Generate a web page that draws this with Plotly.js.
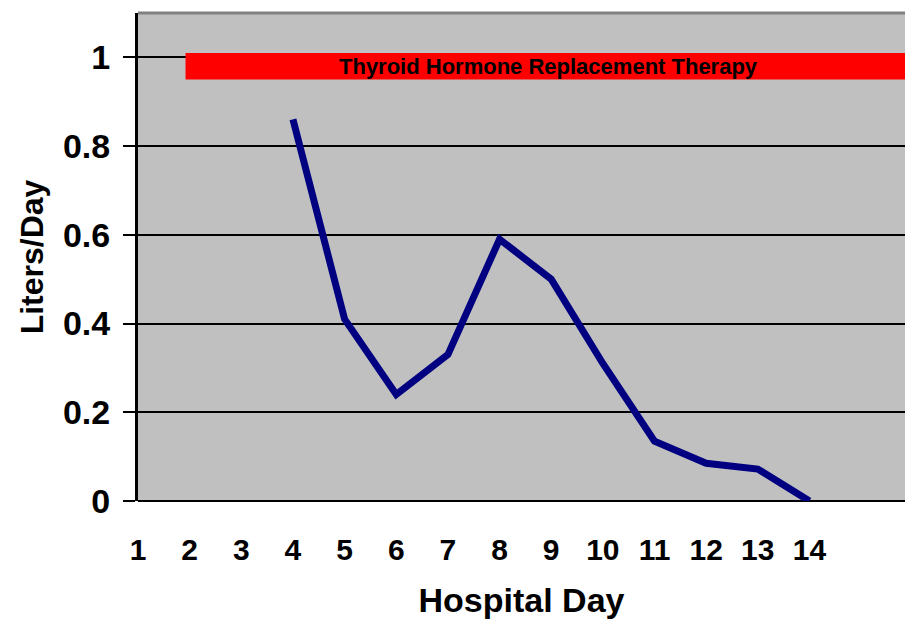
<!DOCTYPE html>
<html>
<head>
<meta charset="utf-8">
<script src="https://cdn.plot.ly/plotly-3.0.1.min.js"></script>
<style>html,body{margin:0;padding:0;background:#fff;}#chart{width:905px;height:619px;}</style>
</head>
<body>
<div id="chart"></div>
<script>
const days = [1, 2, 3, 4, 5, 6, 7, 8, 9, 10, 11, 12, 13, 14];
const lineDays = [4, 5, 6, 7, 8, 9, 10, 11, 12, 13, 14];
const litersPerDay = [0.86, 0.41, 0.24, 0.33, 0.59, 0.50, 0.31, 0.135, 0.085, 0.072, 0.0];
const yTicks = [0, 0.2, 0.4, 0.6, 0.8, 1];
const yTickLabels = ['0', '0.2', '0.4', '0.6', '0.8', '1'];
const therapyLabel = 'Thyroid Hormone Replacement Therapy';
const therapyStartDay = 1.92;
const therapyEndDay = 15.9;
const therapyBand = [0.95, 1.01];

const font = 'Liberation Sans, Arial, sans-serif';

const traces = [{
  x: lineDays,
  y: litersPerDay,
  type: 'scatter',
  mode: 'lines',
  line: {color: '#000080', width: 7},
  hoverinfo: 'x+y',
  showlegend: false
}];

const layout = {
  width: 905,
  height: 619,
  margin: {l: 137.5, r: 0, t: 13, b: 118, pad: 0},
  paper_bgcolor: '#ffffff',
  plot_bgcolor: '#c0c0c0',
  font: {family: font, color: '#000'},
  showlegend: false,
  xaxis: {
    range: [1, 15.85],
    tickmode: 'array',
    tickvals: days,
    ticktext: days.map(String),
    ticks: '',
    showgrid: false,
    zeroline: false,
    showline: false,
    ticklabelstandoff: 28,
    tickfont: {family: font, size: 30, color: '#000', weight: 'bold'},
    title: {text: '<b>Hospital Day</b>', font: {family: font, size: 34, color: '#000'}, standoff: 23}
  },
  yaxis: {
    range: [0, 1.1],
    tickmode: 'array',
    tickvals: yTicks,
    ticktext: yTickLabels,
    ticks: 'outside',
    ticklen: 12,
    tickwidth: 2,
    tickcolor: '#000',
    showgrid: true,
    gridcolor: '#000',
    gridwidth: 2,
    zeroline: true,
    zerolinecolor: '#000',
    zerolinewidth: 2,
    showline: true,
    linecolor: '#000',
    linewidth: 3,
    ticklabelstandoff: 6,
    tickfont: {family: font, size: 34, color: '#000', weight: 'bold'},
    title: {text: '<b>Liters/Day</b>', font: {family: font, size: 32, color: '#000'}, standoff: 10}
  },
  shapes: [
    {type: 'rect', xref: 'x', yref: 'y', x0: therapyStartDay, x1: therapyEndDay,
     y0: therapyBand[0], y1: therapyBand[1], fillcolor: '#ff0000', line: {width: 0}, layer: 'above'},
    {type: 'line', xref: 'paper', yref: 'paper', x0: 0, x1: 1, y0: 1, y1: 1,
     line: {color: '#808080', width: 3}}
  ],
  annotations: [
    {xref: 'x', yref: 'y', x: 8.95, y: (therapyBand[0] + therapyBand[1]) / 2,
     text: '<b>' + therapyLabel + '</b>', showarrow: false,
     font: {family: font, size: 22, color: '#000'}}
  ]
};

Plotly.newPlot('chart', traces, layout, {displayModeBar: false, staticPlot: false});
</script>
</body>
</html>
